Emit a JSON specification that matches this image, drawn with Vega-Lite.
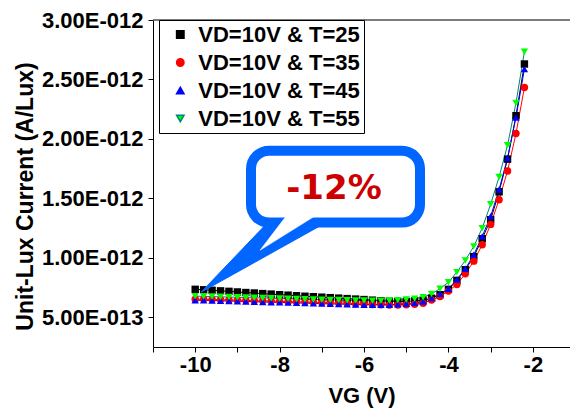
{
  "$schema": "https://vega.github.io/schema/vega-lite/v6.json",
  "autosize": {"type": "none"},
  "padding": {"left": 153, "top": 20, "right": 0, "bottom": 63},
  "width": 417,
  "height": 327,
  "background": "white",
  "config": {"view": {"stroke": null}, "font": "Liberation Sans"},
  "datasets": {
    "series": [
      {"vg": -10, "current_pA": 0.735, "series": "VD=10V & T=25"},
      {"vg": -9.8, "current_pA": 0.731, "series": "VD=10V & T=25"},
      {"vg": -9.6, "current_pA": 0.727, "series": "VD=10V & T=25"},
      {"vg": -9.4, "current_pA": 0.722, "series": "VD=10V & T=25"},
      {"vg": -9.2, "current_pA": 0.718, "series": "VD=10V & T=25"},
      {"vg": -9, "current_pA": 0.713, "series": "VD=10V & T=25"},
      {"vg": -8.8, "current_pA": 0.708, "series": "VD=10V & T=25"},
      {"vg": -8.6, "current_pA": 0.704, "series": "VD=10V & T=25"},
      {"vg": -8.4, "current_pA": 0.699, "series": "VD=10V & T=25"},
      {"vg": -8.2, "current_pA": 0.695, "series": "VD=10V & T=25"},
      {"vg": -8, "current_pA": 0.690, "series": "VD=10V & T=25"},
      {"vg": -7.8, "current_pA": 0.686, "series": "VD=10V & T=25"},
      {"vg": -7.6, "current_pA": 0.681, "series": "VD=10V & T=25"},
      {"vg": -7.4, "current_pA": 0.677, "series": "VD=10V & T=25"},
      {"vg": -7.2, "current_pA": 0.673, "series": "VD=10V & T=25"},
      {"vg": -7, "current_pA": 0.669, "series": "VD=10V & T=25"},
      {"vg": -6.8, "current_pA": 0.665, "series": "VD=10V & T=25"},
      {"vg": -6.6, "current_pA": 0.661, "series": "VD=10V & T=25"},
      {"vg": -6.4, "current_pA": 0.657, "series": "VD=10V & T=25"},
      {"vg": -6.2, "current_pA": 0.653, "series": "VD=10V & T=25"},
      {"vg": -6, "current_pA": 0.649, "series": "VD=10V & T=25"},
      {"vg": -5.8, "current_pA": 0.644, "series": "VD=10V & T=25"},
      {"vg": -5.6, "current_pA": 0.639, "series": "VD=10V & T=25"},
      {"vg": -5.4, "current_pA": 0.635, "series": "VD=10V & T=25"},
      {"vg": -5.2, "current_pA": 0.633, "series": "VD=10V & T=25"},
      {"vg": -5, "current_pA": 0.634, "series": "VD=10V & T=25"},
      {"vg": -4.8, "current_pA": 0.637, "series": "VD=10V & T=25"},
      {"vg": -4.6, "current_pA": 0.643, "series": "VD=10V & T=25"},
      {"vg": -4.4, "current_pA": 0.660, "series": "VD=10V & T=25"},
      {"vg": -4.2, "current_pA": 0.690, "series": "VD=10V & T=25"},
      {"vg": -4, "current_pA": 0.735, "series": "VD=10V & T=25"},
      {"vg": -3.8, "current_pA": 0.810, "series": "VD=10V & T=25"},
      {"vg": -3.6, "current_pA": 0.900, "series": "VD=10V & T=25"},
      {"vg": -3.4, "current_pA": 1.010, "series": "VD=10V & T=25"},
      {"vg": -3.2, "current_pA": 1.160, "series": "VD=10V & T=25"},
      {"vg": -3, "current_pA": 1.320, "series": "VD=10V & T=25"},
      {"vg": -2.8, "current_pA": 1.555, "series": "VD=10V & T=25"},
      {"vg": -2.6, "current_pA": 1.830, "series": "VD=10V & T=25"},
      {"vg": -2.4, "current_pA": 2.195, "series": "VD=10V & T=25"},
      {"vg": -2.2, "current_pA": 2.630, "series": "VD=10V & T=25"},

      {"vg": -10, "current_pA": 0.652, "series": "VD=10V & T=35"},
      {"vg": -9.8, "current_pA": 0.652, "series": "VD=10V & T=35"},
      {"vg": -9.6, "current_pA": 0.650, "series": "VD=10V & T=35"},
      {"vg": -9.4, "current_pA": 0.648, "series": "VD=10V & T=35"},
      {"vg": -9.2, "current_pA": 0.646, "series": "VD=10V & T=35"},
      {"vg": -9, "current_pA": 0.644, "series": "VD=10V & T=35"},
      {"vg": -8.8, "current_pA": 0.642, "series": "VD=10V & T=35"},
      {"vg": -8.6, "current_pA": 0.640, "series": "VD=10V & T=35"},
      {"vg": -8.4, "current_pA": 0.638, "series": "VD=10V & T=35"},
      {"vg": -8.2, "current_pA": 0.636, "series": "VD=10V & T=35"},
      {"vg": -8, "current_pA": 0.634, "series": "VD=10V & T=35"},
      {"vg": -7.8, "current_pA": 0.632, "series": "VD=10V & T=35"},
      {"vg": -7.6, "current_pA": 0.630, "series": "VD=10V & T=35"},
      {"vg": -7.4, "current_pA": 0.628, "series": "VD=10V & T=35"},
      {"vg": -7.2, "current_pA": 0.626, "series": "VD=10V & T=35"},
      {"vg": -7, "current_pA": 0.624, "series": "VD=10V & T=35"},
      {"vg": -6.8, "current_pA": 0.622, "series": "VD=10V & T=35"},
      {"vg": -6.6, "current_pA": 0.620, "series": "VD=10V & T=35"},
      {"vg": -6.4, "current_pA": 0.617, "series": "VD=10V & T=35"},
      {"vg": -6.2, "current_pA": 0.614, "series": "VD=10V & T=35"},
      {"vg": -6, "current_pA": 0.611, "series": "VD=10V & T=35"},
      {"vg": -5.8, "current_pA": 0.608, "series": "VD=10V & T=35"},
      {"vg": -5.6, "current_pA": 0.605, "series": "VD=10V & T=35"},
      {"vg": -5.4, "current_pA": 0.603, "series": "VD=10V & T=35"},
      {"vg": -5.2, "current_pA": 0.603, "series": "VD=10V & T=35"},
      {"vg": -5, "current_pA": 0.605, "series": "VD=10V & T=35"},
      {"vg": -4.8, "current_pA": 0.609, "series": "VD=10V & T=35"},
      {"vg": -4.6, "current_pA": 0.618, "series": "VD=10V & T=35"},
      {"vg": -4.4, "current_pA": 0.645, "series": "VD=10V & T=35"},
      {"vg": -4.2, "current_pA": 0.675, "series": "VD=10V & T=35"},
      {"vg": -4, "current_pA": 0.720, "series": "VD=10V & T=35"},
      {"vg": -3.8, "current_pA": 0.776, "series": "VD=10V & T=35"},
      {"vg": -3.6, "current_pA": 0.866, "series": "VD=10V & T=35"},
      {"vg": -3.4, "current_pA": 0.972, "series": "VD=10V & T=35"},
      {"vg": -3.2, "current_pA": 1.110, "series": "VD=10V & T=35"},
      {"vg": -3, "current_pA": 1.281, "series": "VD=10V & T=35"},
      {"vg": -2.8, "current_pA": 1.489, "series": "VD=10V & T=35"},
      {"vg": -2.6, "current_pA": 1.730, "series": "VD=10V & T=35"},
      {"vg": -2.4, "current_pA": 2.045, "series": "VD=10V & T=35"},
      {"vg": -2.2, "current_pA": 2.433, "series": "VD=10V & T=35"},

      {"vg": -10, "current_pA": 0.643, "series": "VD=10V & T=45"},
      {"vg": -9.8, "current_pA": 0.643, "series": "VD=10V & T=45"},
      {"vg": -9.6, "current_pA": 0.641, "series": "VD=10V & T=45"},
      {"vg": -9.4, "current_pA": 0.639, "series": "VD=10V & T=45"},
      {"vg": -9.2, "current_pA": 0.637, "series": "VD=10V & T=45"},
      {"vg": -9, "current_pA": 0.635, "series": "VD=10V & T=45"},
      {"vg": -8.8, "current_pA": 0.633, "series": "VD=10V & T=45"},
      {"vg": -8.6, "current_pA": 0.631, "series": "VD=10V & T=45"},
      {"vg": -8.4, "current_pA": 0.629, "series": "VD=10V & T=45"},
      {"vg": -8.2, "current_pA": 0.627, "series": "VD=10V & T=45"},
      {"vg": -8, "current_pA": 0.625, "series": "VD=10V & T=45"},
      {"vg": -7.8, "current_pA": 0.623, "series": "VD=10V & T=45"},
      {"vg": -7.6, "current_pA": 0.621, "series": "VD=10V & T=45"},
      {"vg": -7.4, "current_pA": 0.619, "series": "VD=10V & T=45"},
      {"vg": -7.2, "current_pA": 0.617, "series": "VD=10V & T=45"},
      {"vg": -7, "current_pA": 0.615, "series": "VD=10V & T=45"},
      {"vg": -6.8, "current_pA": 0.613, "series": "VD=10V & T=45"},
      {"vg": -6.6, "current_pA": 0.611, "series": "VD=10V & T=45"},
      {"vg": -6.4, "current_pA": 0.609, "series": "VD=10V & T=45"},
      {"vg": -6.2, "current_pA": 0.607, "series": "VD=10V & T=45"},
      {"vg": -6, "current_pA": 0.606, "series": "VD=10V & T=45"},
      {"vg": -5.8, "current_pA": 0.605, "series": "VD=10V & T=45"},
      {"vg": -5.6, "current_pA": 0.605, "series": "VD=10V & T=45"},
      {"vg": -5.4, "current_pA": 0.606, "series": "VD=10V & T=45"},
      {"vg": -5.2, "current_pA": 0.609, "series": "VD=10V & T=45"},
      {"vg": -5, "current_pA": 0.614, "series": "VD=10V & T=45"},
      {"vg": -4.8, "current_pA": 0.621, "series": "VD=10V & T=45"},
      {"vg": -4.6, "current_pA": 0.633, "series": "VD=10V & T=45"},
      {"vg": -4.4, "current_pA": 0.661, "series": "VD=10V & T=45"},
      {"vg": -4.2, "current_pA": 0.697, "series": "VD=10V & T=45"},
      {"vg": -4, "current_pA": 0.740, "series": "VD=10V & T=45"},
      {"vg": -3.8, "current_pA": 0.818, "series": "VD=10V & T=45"},
      {"vg": -3.6, "current_pA": 0.908, "series": "VD=10V & T=45"},
      {"vg": -3.4, "current_pA": 1.026, "series": "VD=10V & T=45"},
      {"vg": -3.2, "current_pA": 1.180, "series": "VD=10V & T=45"},
      {"vg": -3, "current_pA": 1.349, "series": "VD=10V & T=45"},
      {"vg": -2.8, "current_pA": 1.574, "series": "VD=10V & T=45"},
      {"vg": -2.6, "current_pA": 1.840, "series": "VD=10V & T=45"},
      {"vg": -2.4, "current_pA": 2.180, "series": "VD=10V & T=45"},
      {"vg": -2.2, "current_pA": 2.587, "series": "VD=10V & T=45"},

      {"vg": -10, "current_pA": 0.678, "series": "VD=10V & T=55"},
      {"vg": -9.8, "current_pA": 0.676, "series": "VD=10V & T=55"},
      {"vg": -9.6, "current_pA": 0.674, "series": "VD=10V & T=55"},
      {"vg": -9.4, "current_pA": 0.672, "series": "VD=10V & T=55"},
      {"vg": -9.2, "current_pA": 0.670, "series": "VD=10V & T=55"},
      {"vg": -9, "current_pA": 0.668, "series": "VD=10V & T=55"},
      {"vg": -8.8, "current_pA": 0.666, "series": "VD=10V & T=55"},
      {"vg": -8.6, "current_pA": 0.664, "series": "VD=10V & T=55"},
      {"vg": -8.4, "current_pA": 0.662, "series": "VD=10V & T=55"},
      {"vg": -8.2, "current_pA": 0.660, "series": "VD=10V & T=55"},
      {"vg": -8, "current_pA": 0.658, "series": "VD=10V & T=55"},
      {"vg": -7.8, "current_pA": 0.656, "series": "VD=10V & T=55"},
      {"vg": -7.6, "current_pA": 0.654, "series": "VD=10V & T=55"},
      {"vg": -7.4, "current_pA": 0.652, "series": "VD=10V & T=55"},
      {"vg": -7.2, "current_pA": 0.650, "series": "VD=10V & T=55"},
      {"vg": -7, "current_pA": 0.648, "series": "VD=10V & T=55"},
      {"vg": -6.8, "current_pA": 0.646, "series": "VD=10V & T=55"},
      {"vg": -6.6, "current_pA": 0.645, "series": "VD=10V & T=55"},
      {"vg": -6.4, "current_pA": 0.643, "series": "VD=10V & T=55"},
      {"vg": -6.2, "current_pA": 0.642, "series": "VD=10V & T=55"},
      {"vg": -6, "current_pA": 0.641, "series": "VD=10V & T=55"},
      {"vg": -5.8, "current_pA": 0.640, "series": "VD=10V & T=55"},
      {"vg": -5.6, "current_pA": 0.640, "series": "VD=10V & T=55"},
      {"vg": -5.4, "current_pA": 0.641, "series": "VD=10V & T=55"},
      {"vg": -5.2, "current_pA": 0.644, "series": "VD=10V & T=55"},
      {"vg": -5, "current_pA": 0.649, "series": "VD=10V & T=55"},
      {"vg": -4.8, "current_pA": 0.657, "series": "VD=10V & T=55"},
      {"vg": -4.6, "current_pA": 0.669, "series": "VD=10V & T=55"},
      {"vg": -4.4, "current_pA": 0.697, "series": "VD=10V & T=55"},
      {"vg": -4.2, "current_pA": 0.740, "series": "VD=10V & T=55"},
      {"vg": -4, "current_pA": 0.795, "series": "VD=10V & T=55"},
      {"vg": -3.8, "current_pA": 0.880, "series": "VD=10V & T=55"},
      {"vg": -3.6, "current_pA": 0.978, "series": "VD=10V & T=55"},
      {"vg": -3.4, "current_pA": 1.096, "series": "VD=10V & T=55"},
      {"vg": -3.2, "current_pA": 1.250, "series": "VD=10V & T=55"},
      {"vg": -3, "current_pA": 1.450, "series": "VD=10V & T=55"},
      {"vg": -2.8, "current_pA": 1.680, "series": "VD=10V & T=55"},
      {"vg": -2.6, "current_pA": 1.947, "series": "VD=10V & T=55"},
      {"vg": -2.4, "current_pA": 2.303, "series": "VD=10V & T=55"},
      {"vg": -2.2, "current_pA": 2.733, "series": "VD=10V & T=55"}
    ],
    "box": [{"x1": -8.678, "x2": -4.674, "y1": 1.900, "y2": 1.296}],
    "tailOuter": [
      {"i": 1, "x": -8.323, "y": 1.282},
      {"i": 2, "x": -9.863, "y": 0.710},
      {"i": 3, "x": -6.973, "y": 1.282}
    ],
    "tailInner": [
      {"i": 1, "x": -7.778, "y": 1.383},
      {"i": 2, "x": -8.465, "y": 1.063},
      {"i": 3, "x": -7.020, "y": 1.383}
    ],
    "note": [{"x": -6.712, "y": 1.576, "text": "-12%"}],
    "frame": [{"top": 3.0}]
  },
  "layer": [
    {
      "data": {"name": "frame"},
      "mark": {"type": "rule", "color": "#505050", "strokeWidth": 1.5},
      "encoding": {
        "y": {"field": "top", "type": "quantitative"}
      }
    },
    {
      "data": {"name": "series"},
      "mark": {"type": "line", "strokeWidth": 1},
      "encoding": {
        "x": {
          "field": "vg", "type": "quantitative",
          "scale": {"domain": [-11, -1.12], "nice": false, "zero": false},
          "axis": {
            "values": [-11, -10, -9, -8, -7, -6, -5, -4, -3, -2],
            "labelExpr": "datum.value % 2 == 0 ? '' + datum.value : ''",
            "labelFontSize": 22, "labelFontWeight": "bold", "labelColor": "black",
            "labelPadding": 2, "labelOverlap": false,
            "tickSize": 5, "tickColor": "black", "domainColor": "black", "grid": false,
            "title": "VG (V)", "titleFontSize": 22, "titleFontWeight": "bold", "titleColor": "black",
            "titleBaseline": "alphabetic", "titleY": 55
          }
        },
        "y": {
          "field": "current_pA", "type": "quantitative",
          "scale": {"domain": [0.25, 3.0], "nice": false, "zero": false},
          "axis": {
            "values": [0.5, 1, 1.5, 2, 2.5, 3],
            "labelExpr": "datum.value == 0.5 ? '5.00E-013' : format(datum.value, '.2f') + 'E-012'",
            "labelFontSize": 22, "labelFontWeight": "bold", "labelColor": "black",
            "labelPadding": 5, "labelOverlap": false,
            "tickSize": 5, "tickColor": "black", "domainColor": "black", "grid": false,
            "title": "Unit-Lux Current (A/Lux)", "titleFontSize": 23, "titleFontWeight": "bold", "titleColor": "black",
            "titleAngle": -90, "titleBaseline": "alphabetic", "titleAlign": "center",
            "titleX": -121, "titleY": 176
          }
        },
        "stroke": {
          "field": "series", "type": "nominal",
          "scale": {"domain": ["VD=10V & T=25", "VD=10V & T=35", "VD=10V & T=45", "VD=10V & T=55"], "range": ["#000000", "#ff0000", "#0000ff", "#008080"]},
          "legend": {
            "orient": "none", "legendX": 6, "legendY": 0, "title": null,
            "padding": 3.5, "strokeColor": "black", "fillColor": "white",
            "labelFontWeight": "bold", "labelFontSize": 22, "labelColor": "black",
            "labelLimit": 400, "symbolSize": 55, "symbolOffset": 6.8, "labelOffset": 7, "rowPadding": 6
          }
        }
      }
    },
    {
      "data": {"name": "series"},
      "mark": {"type": "point", "filled": true, "size": 55, "opacity": 1},
      "encoding": {
        "x": {"field": "vg", "type": "quantitative"},
        "y": {"field": "current_pA", "type": "quantitative"},
        "shape": {
          "field": "series", "type": "nominal",
          "scale": {"domain": ["VD=10V & T=25", "VD=10V & T=35", "VD=10V & T=45", "VD=10V & T=55"], "range": ["square", "circle", "triangle-up", "triangle-down"]},
          "legend": {
            "orient": "none", "legendX": 6, "legendY": 0, "title": null,
            "padding": 3.5, "strokeColor": "black", "fillColor": "white",
            "labelFontWeight": "bold", "labelFontSize": 22, "labelColor": "black",
            "labelLimit": 400, "symbolSize": 55, "symbolOffset": 6.8, "labelOffset": 7, "rowPadding": 6
          }
        },
        "fill": {
          "field": "series", "type": "nominal",
          "scale": {"domain": ["VD=10V & T=25", "VD=10V & T=35", "VD=10V & T=45", "VD=10V & T=55"], "range": ["#000000", "#ff0000", "#0000ff", "#00ff00"]},
          "legend": {
            "orient": "none", "legendX": 6, "legendY": 0, "title": null,
            "padding": 3.5, "strokeColor": "black", "fillColor": "white",
            "labelFontWeight": "bold", "labelFontSize": 22, "labelColor": "black",
            "labelLimit": 400, "symbolSize": 55, "symbolOffset": 6.8, "labelOffset": 7, "rowPadding": 6
          }
        }
      }
    },
    {
      "data": {"name": "tailOuter"},
      "mark": {"type": "line", "fill": "#0066ff", "stroke": "#0066ff", "strokeWidth": 1},
      "encoding": {
        "x": {"field": "x", "type": "quantitative"},
        "y": {"field": "y", "type": "quantitative"},
        "order": {"field": "i", "type": "quantitative"}
      }
    },
    {
      "data": {"name": "box"},
      "mark": {"type": "rect", "fill": "white", "stroke": "#0066ff", "strokeWidth": 10, "cornerRadius": 18},
      "encoding": {
        "x": {"field": "x1", "type": "quantitative"},
        "x2": {"field": "x2"},
        "y": {"field": "y1", "type": "quantitative"},
        "y2": {"field": "y2"}
      }
    },
    {
      "data": {"name": "tailInner"},
      "mark": {"type": "line", "fill": "white", "stroke": "white", "strokeWidth": 0.5},
      "encoding": {
        "x": {"field": "x", "type": "quantitative"},
        "y": {"field": "y", "type": "quantitative"},
        "order": {"field": "i", "type": "quantitative"}
      }
    },
    {
      "data": {"name": "note"},
      "mark": {"type": "text", "font": "DejaVu Sans", "fontWeight": "bold", "fontSize": 34, "color": "#cc0000", "align": "center", "baseline": "middle"},
      "encoding": {
        "x": {"field": "x", "type": "quantitative"},
        "y": {"field": "y", "type": "quantitative"},
        "text": {"field": "text"}
      }
    }
  ]
}
